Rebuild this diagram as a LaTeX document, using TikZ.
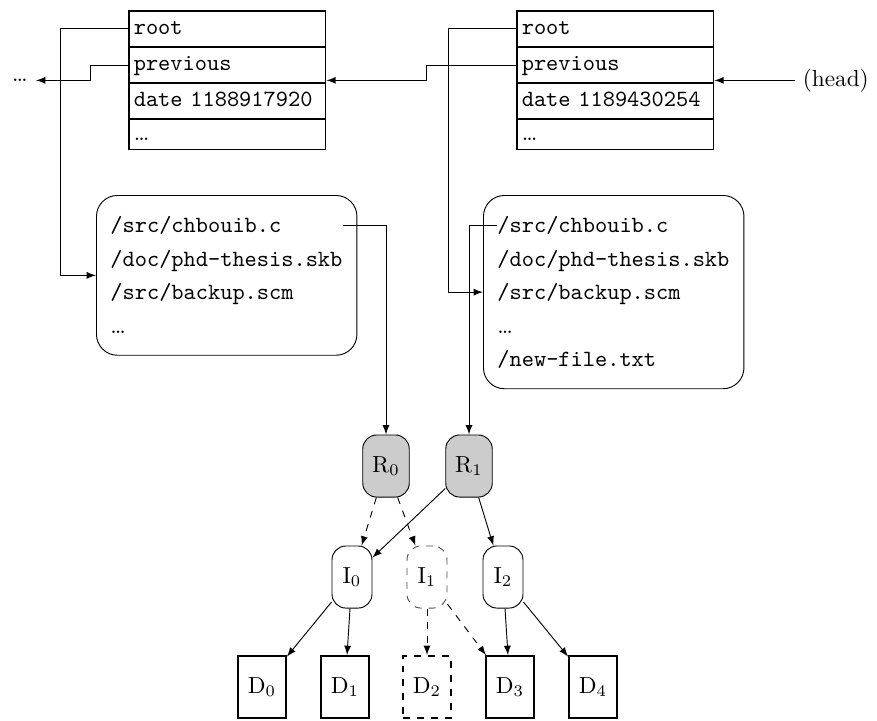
\documentclass[tikz,border=0pt]{standalone}
\usepackage{amsmath}
\usepackage{tikz}
\usetikzlibrary{matrix,positioning}

\begin{document}
\begin{tikzpicture}[x=0.43pt,y=-0.43pt,>=latex,
            record/.style={matrix of nodes, inner sep=0pt, row sep=-\pgflinewidth,
                nodes={draw,semithick,font=\ttfamily,anchor=west,text width=80.3pt,
                    inner xsep=2pt,text height=7pt,text depth=2pt,minimum height=15.3pt},
                row 4/.style={nodes={minimum height=13pt}}},
            files/.style={matrix of nodes, draw, rounded corners=9pt,
                inner xsep=6pt, inner ysep=7pt, row sep=2.9pt,
                nodes={font=\ttfamily,anchor=west,text width=100pt,inner sep=0pt,
                    text height=9pt,text depth=2.5pt}},
            rootnode/.style={draw,rounded corners=6pt,fill=black!20,
                minimum width=20pt,minimum height=26.7pt},
            inode/.style={draw,rounded corners=6pt,minimum width=17.2pt,minimum height=26.7pt},
            dnode/.style={draw,thick,minimum width=20.6pt,minimum height=26.7pt}]
            \useasboundingbox (0,0) rectangle (877,720);

            \matrix (lrec) [record, anchor=north west] at (128,10)
            {
                root \\
                previous \\
                date 1188917920 \\
                \textrm{\dots} \\
            };
            \matrix (rrec) [record, anchor=north west] at (516,10)
            {
                root \\
                previous \\
                date 1189430254 \\
                \textrm{\dots} \\
            };
            \node (older) at (lrec.east -| 20,0) {\dots};
            \node[right=34.5pt of rrec.east] (head) {(head)};

            \matrix (lfiles) [files, anchor=north west] at (96,195)
            {
                /src/chbouib.c \\
                /doc/phd-thesis.skb \\
                /src/backup.scm \\
                \textrm{\dots} \\
            };
            \matrix (rfiles) [files, anchor=north west] at (483,195)
            {
                /src/chbouib.c \\
                /doc/phd-thesis.skb \\
                /src/backup.scm \\
                \textrm{\dots} \\
                /new-file.txt \\
            };

            \node[rootnode] (R0) at (386,466) {$\mathrm{R}_0$};
            \node[rootnode] (R1) at (469,466) {$\mathrm{R}_1$};
            \node[inode] (I0) at (352,577) {$\mathrm{I}_0$};
            \node[inode,dashed,draw=black!70] (I1) at (427,577) {$\mathrm{I}_1$};
            \node[inode] (I2) at (503,577) {$\mathrm{I}_2$};
            \node[dnode] (D0) at (262,687) {$\mathrm{D}_0$};
            \node[dnode] (D1) at (345,687) {$\mathrm{D}_1$};
            \node[dnode,dashed] (D2) at (427,687) {$\mathrm{D}_2$};
            \node[dnode] (D3) at (510,687) {$\mathrm{D}_3$};
            \node[dnode] (D4) at (593,687) {$\mathrm{D}_4$};

            \draw[->] (lrec-1-1.west) -- ++(-68,0) |- (lfiles.west);
            \draw[->] (lrec-2-1.west) -- ++(-38,0) |- (older.east);
            \draw[->] (rrec-1-1.west) -- ++(-68,0) |- (rfiles.west);
            \draw[->] (rrec-2-1.west) -- ++(-90,0) |- (lrec.east);
            \draw[->] (head.west) -- (rrec.east);

            \draw[->] (lfiles-1-1.east) -| (R0);
            \draw[->] (rfiles-1-1.west) -| (R1);

            \draw[->,dashed] (R0) -- (I0);
            \draw[->,dashed] (R0) -- (I1);
            \draw[->] (R1) -- (I0);
            \draw[->] (R1) -- (I2);
            \draw[->] (I0) -- (D0);
            \draw[->] (I0) -- (D1);
            \draw[->,dashed] (I1) -- (D2);
            \draw[->,dashed] (I1) -- (D3);
            \draw[->] (I2) -- (D3);
            \draw[->] (I2) -- (D4);

        \end{tikzpicture}
\end{document}
